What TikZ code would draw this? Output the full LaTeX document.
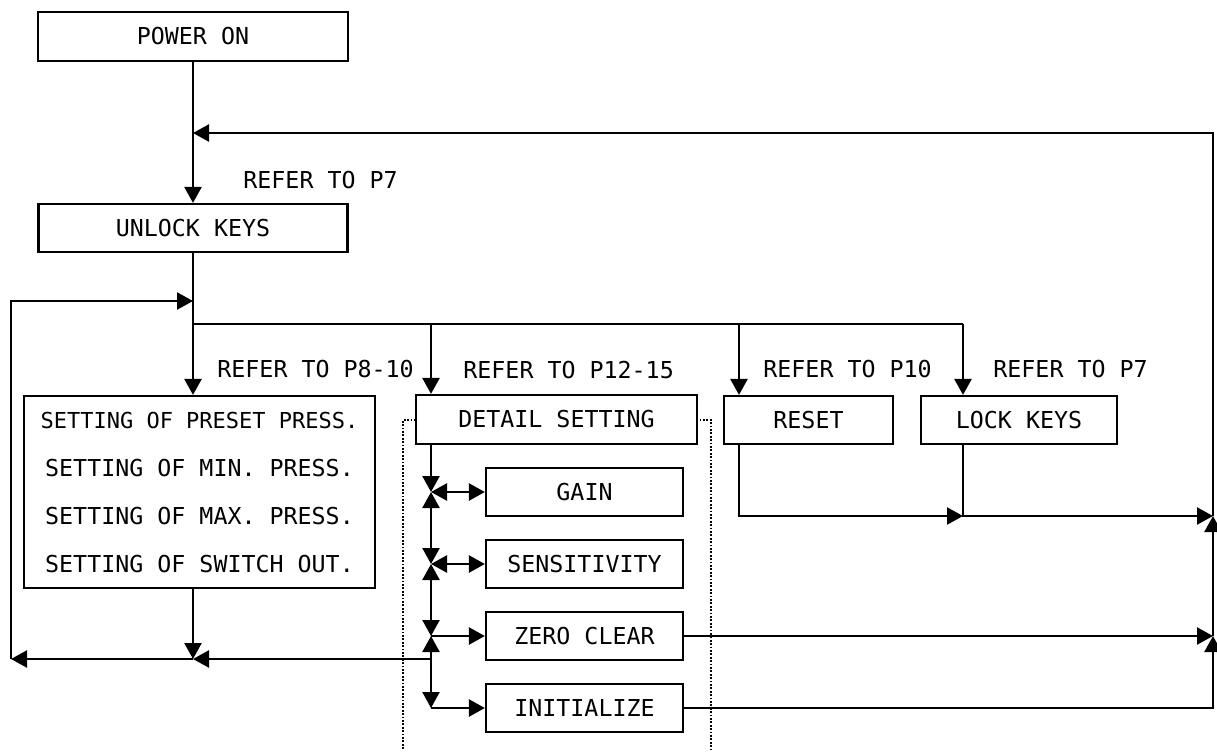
\documentclass[tikz,border=0pt]{standalone}
\usepackage{fontspec}
\setmonofont{DejaVu Sans Mono}
\usetikzlibrary{arrows.meta}
\newcommand{\boxfont}{\fontsize{11.65pt}{24pt}\selectfont\ttfamily}
\tikzset{
  box/.style={draw, line width=1.1pt, fill=white, inner sep=0pt, font=\boxfont, align=center},
  lbl/.style={anchor=west, inner sep=0pt, font=\boxfont, text depth=0pt},
  conn/.style={line width=1.2pt},
  arr/.style={conn, -{Triangle[length=8pt,width=8.5pt]}},
  darr/.style={conn, {Triangle[length=8pt,width=8.5pt]}-{Triangle[length=8pt,width=8.5pt]}},
  frame/.style={line width=0.9pt, dash pattern=on 0.9pt off 0.8pt}
}
\begin{document}
\begin{tikzpicture}[x=0.5pt,y=-0.5pt]
\useasboundingbox (0,0) rectangle (1217,751);
% dotted frame around detail settings
\draw[frame] (403,749) -- (403,420) -- (711,420) -- (711,749);
% boxes
\node[box, minimum width=155pt, minimum height=24.5pt] (power) at (193,36.5) {POWER ON};
\node[box, minimum width=154.5pt, minimum height=24pt] (unlock) at (193,228) {UNLOCK KEYS};
\node[box, minimum width=175.5pt, minimum height=96pt] (settings) at (199.5,492)
  {{\fontsize{11pt}{24pt}\selectfont SETTING OF PRESET PRESS.}\\SETTING OF MIN. PRESS.\\SETTING OF MAX. PRESS.\\SETTING OF SWITCH OUT.};
\node[box, minimum width=140.5pt, minimum height=24.5pt] (detail) at (556.5,419.5) {DETAIL SETTING};
\node[box, minimum width=98.5pt, minimum height=24pt] (gain) at (584.5,492) {GAIN};
\node[box, minimum width=98.5pt, minimum height=24pt] (sens) at (584.5,564) {SENSITIVITY};
\node[box, minimum width=98.5pt, minimum height=24pt] (zero) at (584.5,636) {ZERO CLEAR};
\node[box, minimum width=98.5pt, minimum height=24pt] (init) at (584.5,708) {INITIALIZE};
\node[box, minimum width=84.5pt, minimum height=24pt] (reset) at (808.5,420) {RESET};
\node[box, minimum width=98pt, minimum height=24pt] (lock) at (1019,420) {LOCK KEYS};
% labels
\node[lbl] (l1) at (243,180) {REFER TO P7};
\node[lbl] (l2) at (217,369) {REFER TO P8-10};
\node[lbl] (l3) at (463,370) {REFER TO P12-15};
\node[lbl] (l4) at (763,369) {REFER TO P10};
\node[lbl] (l5) at (993,369) {REFER TO P7};
% coordinates
\coordinate (top) at (193,133);
\coordinate (rtop) at (1213,133);
\coordinate (lp) at (193,301);
\coordinate (lpl) at (11,301);
\coordinate (br) at (193,324);
\coordinate (bd) at (431,324);
\coordinate (brs) at (739,324);
\coordinate (blk) at (963,324);
\coordinate (bot) at (193,659);
\coordinate (botl) at (11,659);
\coordinate (botr) at (431,659);
\coordinate (j1) at (431,492);
\coordinate (j2) at (431,564);
\coordinate (j3) at (431,636);
\coordinate (j4) at (431,708);
\coordinate (rr) at (739,516);
\coordinate (lk) at (963,516);
\coordinate (r1) at (1213,516);
\coordinate (r2) at (1213,636);
\coordinate (r3) at (1213,708);
% main flow
\draw[arr] (power.south) -- (unlock.north);
\draw[arr] (r1) -- (rtop) -- (top);
\draw[conn] (unlock.south) -- (br);
\draw[arr] (br) -- (br |- settings.north);
\draw[conn] (br) -- (blk);
\draw[arr] (bd) -- (bd |- detail.north);
\draw[arr] (brs) -- (brs |- reset.north);
\draw[arr] (blk) -- (blk |- lock.north);
% left loop
\draw[arr] (br |- settings.south) -- (bot);
\draw[arr] (botr) -- (bot);
\draw[arr] (bot) -- (botl);
\draw[arr] (botl) -- (lpl) -- (lp);
% detail column
\draw[arr] (bd |- detail.south) -- (j1);
\draw[darr] (j1) -- (j2);
\draw[darr] (j2) -- (j3);
\draw[darr] (j3) -- (j4);
\draw[darr] (j1) -- (gain.west);
\draw[darr] (j2) -- (sens.west);
\draw[arr] (j3) -- (zero.west);
\draw[arr] (j4) -- (init.west);
% right side returns
\draw[arr] (rr |- reset.south) -- (rr) -- (lk);
\draw[arr] (lk |- lock.south) -- (lk) -- (r1);
\draw[arr] (zero.east) -- (r2);
\draw[arr] (init.east) -- (r3) -- (r2);
\draw[arr] (r2) -- (r1);
\end{tikzpicture}
\end{document}
